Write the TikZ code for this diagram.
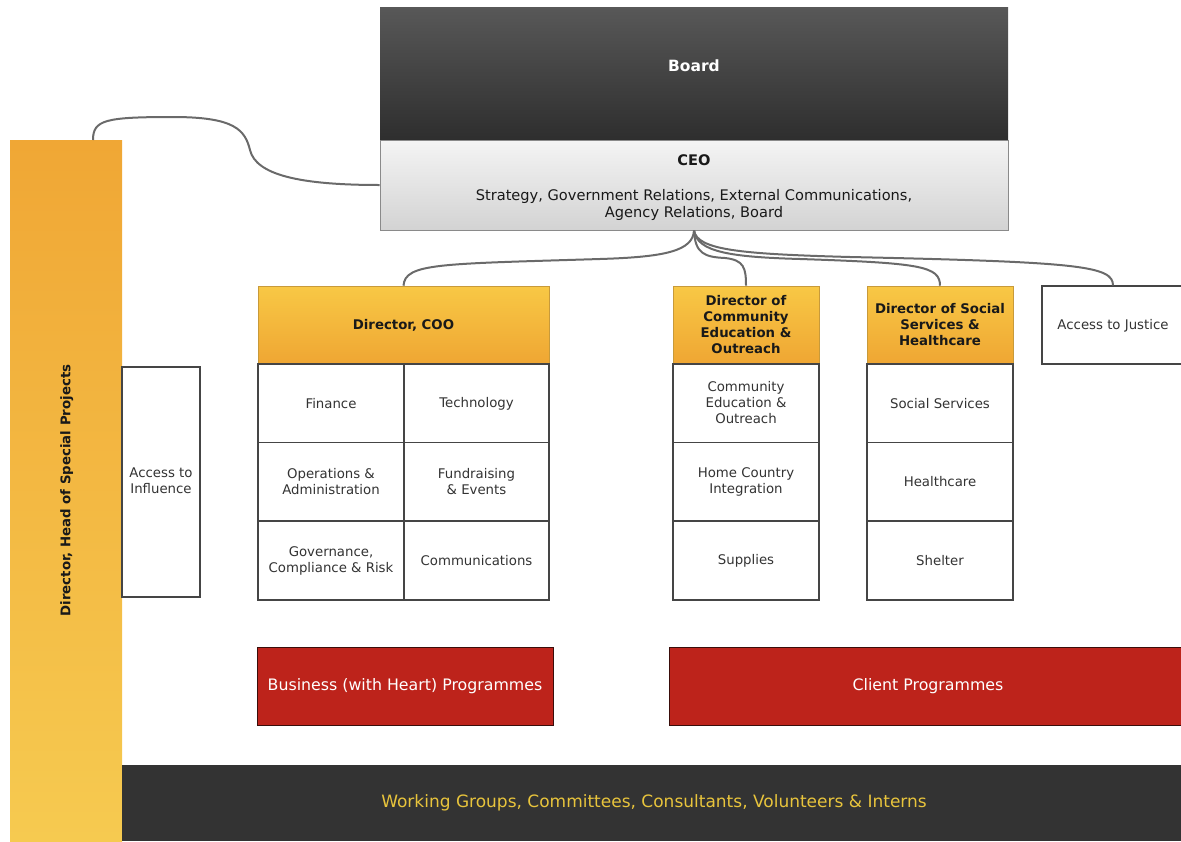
\documentclass[tikz,border=0pt]{standalone}
\usepackage{fontspec}
\setmainfont{DejaVu Sans}
\definecolor{boardtop}{HTML}{585858}
\definecolor{boardbot}{HTML}{2E2E2E}
\definecolor{ceotop}{HTML}{F4F4F4}
\definecolor{ceobot}{HTML}{D3D3D3}
\definecolor{ceoborder}{HTML}{8A8A8A}
\definecolor{baror}{HTML}{F0A735}
\definecolor{baryel}{HTML}{F6CA50}
\definecolor{diryel}{HTML}{F8C845}
\definecolor{diror}{HTML}{EFA633}
\definecolor{dirborder}{HTML}{C89A3A}
\definecolor{cellborder}{HTML}{454545}
\definecolor{celltext}{HTML}{333333}
\definecolor{progred}{HTML}{BD231B}
\definecolor{progborder}{HTML}{3A0D0A}
\definecolor{darkbar}{HTML}{333333}
\definecolor{darktext}{HTML}{E8C43C}
\definecolor{conngray}{HTML}{6A6A6A}
\newcommand{\fsnorm}{\fontsize{13.3}{16}\selectfont}
\newcommand{\fsceo}{\fontsize{14.6}{17}\selectfont}
\newcommand{\fsboard}{\fontsize{15.5}{18}\selectfont}
\newcommand{\fsprog}{\fontsize{15.8}{18}\selectfont}
\newcommand{\fswork}{\fontsize{17}{20}\selectfont}
\newcommand{\mytopstrut}{\rule{0pt}{11.5pt}}
\newcommand{\mybotstrut}{\rule[-2pt]{0pt}{2pt}}
\begin{document}
\begin{tikzpicture}[x=1pt,y=-1pt,
  strutted/.style={execute at begin node=\mytopstrut, execute at end node=\mybotstrut},
  cell/.style={draw=cellborder, line width=1.1pt, fill=white, align=center,
    inner sep=2pt, font=\fsnorm, text=celltext, strutted},
  dirbox/.style={draw=dirborder, line width=0.6pt, top color=diryel, bottom color=diror,
    align=center, inner sep=2pt, font=\fsnorm\bfseries, text=black!90, strutted},
  prog/.style={draw=progborder, line width=0.8pt, fill=progred, text=white,
    font=\fsprog, align=center, strutted},
  conn/.style={draw=conngray, line width=2pt}]
\useasboundingbox (0,0) rectangle (1181,841);
\clip (0,0) rectangle (1181,841);

% Board and CEO
\node[minimum width=628, minimum height=133, top color=boardtop, bottom color=boardbot,
  text=white, font=\fsboard\bfseries, inner sep=0pt] (board) at (694,73.5)
  {\raisebox{16pt}{\mytopstrut Board\mybotstrut}};
\node[minimum width=628, minimum height=90, top color=ceotop, bottom color=ceobot,
  draw=ceoborder, line width=0.8pt, align=center, font=\fsceo, text=black!90,
  inner sep=0pt] (ceo) at (694,185)
  {\rule{0pt}{15.5pt}\textbf{CEO}\\[18pt]Strategy, Government Relations, External Communications,\\Agency Relations, Board\mybotstrut};

% Left bar
\node[minimum width=112, minimum height=701, top color=baror, bottom color=baryel,
  inner sep=0pt, font=\fsnorm\bfseries, text=black!90] (bar) at (66,490.5)
  {\rotatebox{90}{\mytopstrut Director, Head of Special Projects\mybotstrut}};
\coordinate (barjoin) at (93,140);

% Access to Influence
\node[cell, minimum width=78, minimum height=230] (influence) at (161,482)
  {Access to\\Influence};

% Director COO block
\node[dirbox, minimum width=291, minimum height=78] (coo) at (403.5,325) {Director, COO};
\node[cell, minimum width=146, minimum height=79] (finance) at (331,403.5) {Finance};
\node[cell, minimum width=145, minimum height=79] (tech) at (476.5,403.5) {Technology};
\node[cell, minimum width=146, minimum height=79] (ops) at (331,482) {Operations \&\\Administration};
\node[cell, minimum width=145, minimum height=79] (fund) at (476.5,482) {Fundraising\\\& Events};
\node[cell, minimum width=146, minimum height=79] (gov) at (331,560.5) {Governance,\\Compliance \& Risk};
\node[cell, minimum width=145, minimum height=79] (comms) at (476.5,560.5) {Communications};

% Community education block
\node[dirbox, minimum width=146, minimum height=78] (commdir) at (746,325)
  {Director of\\Community\\Education \&\\Outreach};
\node[cell, minimum width=146, minimum height=79] (commedu) at (746,403.5)
  {Community\\Education \&\\Outreach};
\node[cell, minimum width=146, minimum height=79] (home) at (746,482)
  {Home Country\\Integration};
\node[cell, minimum width=146, minimum height=79] (supplies) at (746,560.5) {Supplies};

% Social services block
\node[dirbox, minimum width=146, minimum height=78] (socdir) at (940,325)
  {Director of Social\\Services \&\\Healthcare};
\node[cell, minimum width=146, minimum height=79] (social) at (940,403.5) {Social Services};
\node[cell, minimum width=146, minimum height=79] (health) at (940,482) {Healthcare};
\node[cell, minimum width=146, minimum height=79] (shelter) at (940,560.5) {Shelter};

% Access to Justice
\node[cell, minimum width=142, minimum height=78] (justice) at (1113,325) {Access to Justice};

% Programmes
\node[prog, minimum width=296, minimum height=78] (business) at (405,686)
  {Business (with Heart) Programmes};
\node[prog, minimum width=518, minimum height=78] (client) at (928,686)
  {Client Programmes};

% Bottom bar
\node[fill=darkbar, minimum width=1064, minimum height=76, text=darktext,
  font=\fswork, inner sep=0pt, strutted] (working) at (654,803)
  {Working Groups, Committees, Consultants, Volunteers \& Interns};

% Connectors
\draw[conn] (barjoin) .. controls (93,120) and (105,117) .. (173,117)
  .. controls (235,117) and (245,130) .. (250,150)
  .. controls (256,175) and (300,185) .. (ceo.west);
\draw[conn] (ceo.south) .. controls (693,251) and (665,257) .. (600,259)
  .. controls (440,264) and (405,263) .. (coo.north);
\draw[conn] (ceo.south) .. controls (695,254) and (705,257) .. (725,258)
  .. controls (744,260) and (746,268) .. (commdir.north);
\draw[conn] (ceo.south) .. controls (697,252) and (730,257) .. (800,259)
  .. controls (920,263) and (940,266) .. (socdir.north);
\draw[conn] (ceo.south) .. controls (697,250) and (740,254) .. (850,257)
  .. controls (1080,262) and (1113,266) .. (justice.north);
\end{tikzpicture}
\end{document}
